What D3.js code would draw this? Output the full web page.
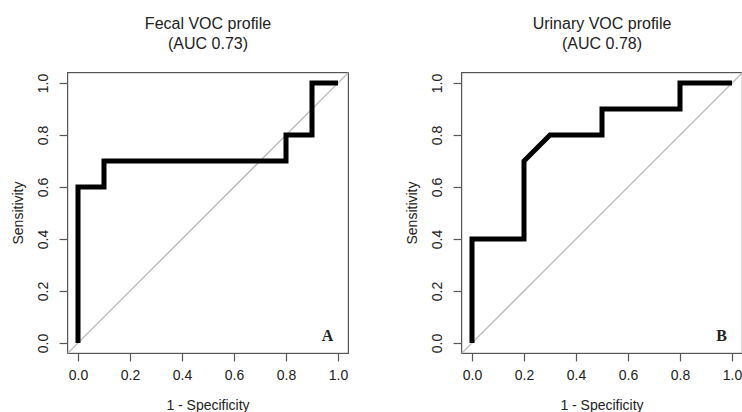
<!DOCTYPE html>
<html lang="en">
<head>
  <meta charset="utf-8">
  <title>ROC curves</title>
  <script src="https://d3js.org/d3.v7.min.js"></script>
  <style>
    body { margin: 0; background: #fff; }
    text { font-family: "Liberation Sans", Arial, sans-serif; fill: #222; }
  </style>
</head>
<body>
  <div class="board"></div>
  <script type="text/javascript">
    var W = 742, H = 412;

    // ROC points (1 - specificity, sensitivity)
    var fecalFpr = [0, 0, 0.1, 0.1, 0.8, 0.8, 0.9, 0.9, 1.0];
    var fecalTpr = [0, 0.6, 0.6, 0.7, 0.7, 0.8, 0.8, 1.0, 1.0];
    var urineFpr = [0, 0, 0.2, 0.2, 0.3, 0.5, 0.5, 0.8, 0.8, 1.0];
    var urineTpr = [0, 0.4, 0.4, 0.7, 0.8, 0.8, 0.9, 0.9, 1.0, 1.0];
    var tickVals = [0, 0.2, 0.4, 0.6, 0.8, 1.0];

    var panels = [
      {title: "Fecal VOC profile", auc: "(AUC 0.73)", letter: "A", fpr: fecalFpr, tpr: fecalTpr, x0: 78},
      {title: "Urinary VOC profile", auc: "(AUC 0.78)", letter: "B", fpr: urineFpr, tpr: urineTpr, x0: 472}
    ];

    var svg = d3.select(".board").append("svg")
      .attr("width", W)
      .attr("height", H);

    panels.forEach(function(p) {
      var x = d3.scaleLinear().domain([-0.04, 1.04]).range([p.x0 - 10.4, p.x0 + 270.4]);
      var y = d3.scaleLinear().domain([-0.04, 1.04]).range([353.4, 72.6]);
      var g = svg.append("g");

      // box
      g.append("rect")
        .attr("x", x(-0.04)).attr("y", y(1.04))
        .attr("width", x(1.04) - x(-0.04)).attr("height", y(-0.04) - y(1.04))
        .style("fill", "none").style("stroke", "#555").style("stroke-width", 1.2);

      // diagonal
      g.append("line")
        .attr("x1", x(-0.04)).attr("y1", y(-0.04))
        .attr("x2", x(1.04)).attr("y2", y(1.04))
        .style("stroke", "#b8b8b8").style("stroke-width", 1.3);

      // axes
      var xa = g.append("g")
        .attr("transform", "translate(0," + y(-0.04) + ")")
        .call(d3.axisBottom(x).tickValues(tickVals).tickFormat(d3.format(".1f")).tickSize(8).tickPadding(9));
      var ya = g.append("g")
        .attr("transform", "translate(" + x(-0.04) + ",0)")
        .call(d3.axisLeft(y).tickValues(tickVals).tickFormat(d3.format(".1f")).tickSize(8));
      [xa, ya].forEach(function(a) {
        a.select(".domain").remove();
        a.selectAll(".tick line").style("stroke", "#555").style("stroke-width", 1.2);
        a.selectAll(".tick text").style("font-size", "14px").style("fill", "#222")
          .style("font-family", "Liberation Sans, Arial, sans-serif");
      });
      ya.selectAll(".tick text")
        .attr("x", -25).attr("dy", "0.35em")
        .attr("text-anchor", "middle")
        .attr("transform", "rotate(-90,-25,0)");

      // ROC line
      var line = d3.line().x(function(d) { return x(d[0]); }).y(function(d) { return y(d[1]); });
      g.append("path")
        .datum(d3.zip(p.fpr, p.tpr))
        .attr("d", line)
        .style("fill", "none").style("stroke", "#000").style("stroke-width", 5)
        .style("stroke-linejoin", "miter");

      // titles
      var cx = (x(-0.04) + x(1.04)) / 2;
      g.append("text").attr("x", cx).attr("y", 29).attr("text-anchor", "middle")
        .style("font-size", "16px").text(p.title);
      g.append("text").attr("x", cx).attr("y", 49).attr("text-anchor", "middle")
        .style("font-size", "16px").text(p.auc);

      g.append("text").attr("x", cx).attr("y", 410).attr("text-anchor", "middle")
        .style("font-size", "14px").text("1 - Specificity");
      g.append("text").attr("transform", "translate(" + (p.x0 - 55) + "," + y(0.5) + ") rotate(-90)")
        .attr("text-anchor", "middle").style("font-size", "14px").text("Sensitivity");

      g.append("text").attr("x", x(0.96)).attr("y", 341).attr("text-anchor", "middle")
        .style("font-family", "Liberation Serif, Times New Roman, serif")
        .style("font-weight", "bold").style("font-size", "16px").text(p.letter);
    });
  </script>
</body>
</html>
